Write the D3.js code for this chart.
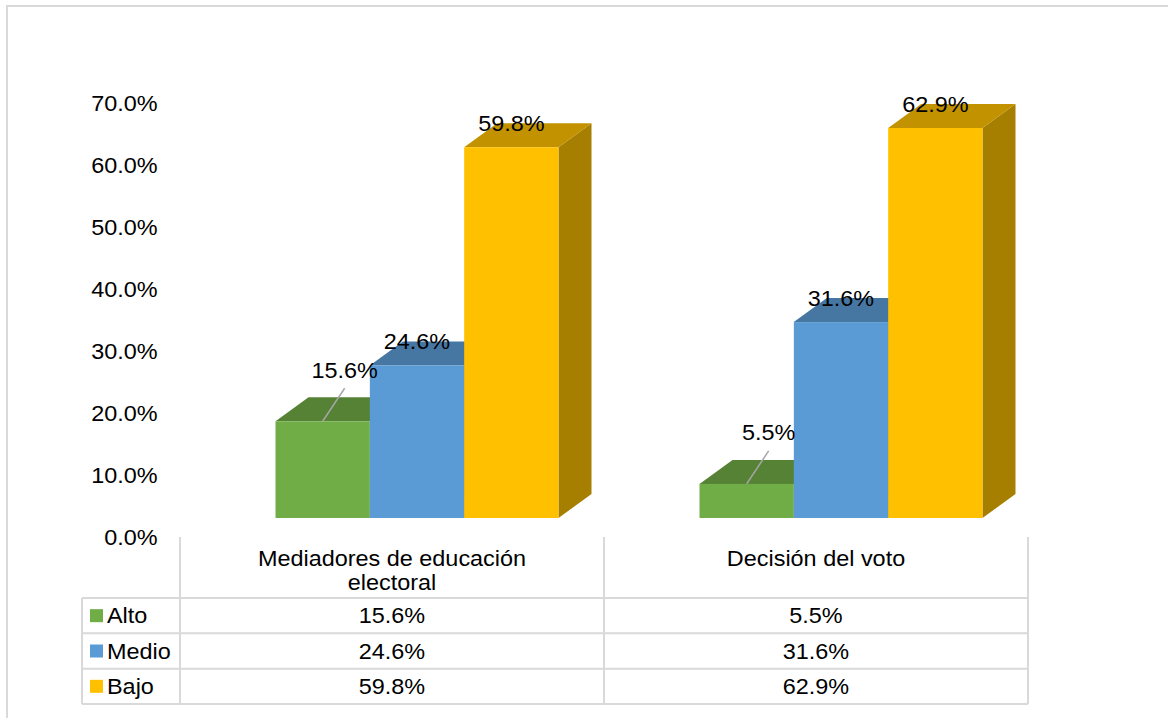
<!DOCTYPE html>
<html>
<head>
<meta charset="utf-8">
<script src="https://cdn.jsdelivr.net/npm/d3@7"></script>
<style>
  body { margin: 0; background: #fff; }
  svg text { font-family: "Liberation Sans", Arial, sans-serif; font-size: 21.5px; fill: #000; }
</style>
</head>
<body>
<script>
// Data
const categories = ["Mediadores de educación electoral", "Decisión del voto"];
const series = ["Alto", "Medio", "Bajo"];
const alto = [15.6, 5.5];
const medio = [24.6, 31.6];
const bajo = [59.8, 62.9];
const yTicks = [0, 10, 20, 30, 40, 50, 60, 70];

const values = { Alto: alto, Medio: medio, Bajo: bajo };

// Colours for front, top and side faces
const frontColor = d3.scaleOrdinal().domain(series).range(["#70AD47", "#5B9BD5", "#FFC000"]);
const topColor = d3.scaleOrdinal().domain(series).range(["#568236", "#4676A2", "#C39200"]);
const sideColor = d3.scaleOrdinal().domain(series).range(["#4E7A31", "#3F6B94", "#A67E00"]);

let width = 1168, height = 718;
const depthX = 33, depthY = -24;   // 3D depth offset
const stretch = 1.09;              // horizontal text stretch of the original

let svg = d3.select('body')
            .append('svg')
            .attr('width', width)
            .attr('height', height);

// Outer frame
svg.append("rect")
   .attr("x", 7).attr("y", 6)
   .attr("width", 1200).attr("height", 800)
   .attr("fill", "none")
   .attr("stroke", "#d9d9d9")
   .attr("stroke-width", 2);

// helper to place stretched text
function addText(g, x, y, txt, anchor) {
    return g.append("text")
            .attr("transform", `translate(${x},${y}) scale(${stretch},1)`)
            .attr("text-anchor", anchor || "middle")
            .attr("dy", "0.35em")
            .text(txt);
}

// Scales
const yScale = d3.scaleLinear().domain([0, 70]).range([518, 84]);

const xCat = d3.scaleBand()
    .domain(categories)
    .range([180, 1028]);

const groupWidth = 283;
const xSeries = d3.scaleBand()
    .domain(series)
    .range([0, groupWidth]);

const groupLeft = c => xCat(c) + xCat.bandwidth() / 2 + 25 - groupWidth / 2;

// Y axis (labels only)
const yAxis = svg.append("g")
   .attr("transform", `translate(162,20)`)
   .call(d3.axisLeft(yScale).tickValues(yTicks).tickSize(0).tickPadding(4)
           .tickFormat(d => d.toFixed(1) + "%"));
yAxis.select(".domain").remove();
yAxis.selectAll("text")
     .attr("font-family", null)
     .attr("font-size", null)
     .attr("transform", `scale(${stretch},1)`);

// 3D bars
const bars = svg.append("g");
categories.forEach((c, ci) => {
    series.forEach(s => {
        const v = values[s][ci];
        const x = groupLeft(c) + xSeries(s);
        const w = xSeries.bandwidth();
        const yTop = yScale(v);
        const yBase = yScale(0);

        // side face
        bars.append("polygon")
            .attr("points", [[x + w, yTop], [x + w + depthX, yTop + depthY],
                             [x + w + depthX, yBase + depthY], [x + w, yBase]].join(" "))
            .attr("fill", sideColor(s));

        // top face
        bars.append("polygon")
            .attr("points", [[x, yTop], [x + depthX, yTop + depthY],
                             [x + w + depthX, yTop + depthY], [x + w, yTop]].join(" "))
            .attr("fill", topColor(s));

        // front face
        bars.append("rect")
            .attr("x", x)
            .attr("y", yTop)
            .attr("width", w)
            .attr("height", yBase - yTop)
            .attr("fill", frontColor(s));
    });
});

// Data labels
const labels = svg.append("g");
categories.forEach((c, ci) => {
    series.forEach(s => {
        const v = values[s][ci];
        const cx = groupLeft(c) + xSeries(s) + xSeries.bandwidth() / 2;
        const yTop = yScale(v);
        const txt = v.toFixed(1) + "%";
        if (s === "Alto") {
            // small bars get a leader line
            const lx = cx + 22, ly = yTop - 51;
            labels.append("line")
                  .attr("x1", cx).attr("y1", yTop)
                  .attr("x2", lx).attr("y2", ly + 18)
                  .attr("stroke", "#a6a6a6")
                  .attr("stroke-width", 1.5);
            addText(labels, lx, ly, txt);
        } else {
            addText(labels, cx, yTop - 24, txt);
        }
    });
});

// Data table
const table = svg.append("g");
const rowY = d3.scaleBand().domain(series).range([598, 704]);
const tableLeft = 82, tableRight = 1028, headerTop = 537;
const gridColor = "#d9d9d9";

// horizontal lines
[598, ...series.map(s => rowY(s) + rowY.bandwidth())].forEach(y => {
    table.append("line")
         .attr("x1", tableLeft).attr("x2", tableRight)
         .attr("y1", y).attr("y2", y)
         .attr("stroke", gridColor).attr("stroke-width", 2);
});

// left border of rows
table.append("line")
     .attr("x1", tableLeft).attr("x2", tableLeft)
     .attr("y1", 598).attr("y2", 704)
     .attr("stroke", gridColor).attr("stroke-width", 2);

// column lines
[...categories.map(c => xCat(c)), tableRight].forEach(x => {
    table.append("line")
         .attr("x1", x).attr("x2", x)
         .attr("y1", headerTop).attr("y2", 704)
         .attr("stroke", gridColor).attr("stroke-width", 2);
});

// header text, wrapped
categories.forEach(c => {
    const cx = xCat(c) + xCat.bandwidth() / 2;
    const words = c.split(" ");
    let lines = [c];
    if (c.length > 24) {
        lines = [words.slice(0, -1).join(" "), words[words.length - 1]];
    }
    lines.forEach((ln, i) => addText(table, cx, 558 + i * 24, ln));
});

// rows
series.forEach(s => {
    const cy = rowY(s) + rowY.bandwidth() / 2;
    table.append("rect")
         .attr("x", 90).attr("y", cy - 6.5)
         .attr("width", 13).attr("height", 13)
         .attr("fill", frontColor(s));
    addText(table, 107, cy, s, "start");
    categories.forEach((c, ci) => {
        addText(table, xCat(c) + xCat.bandwidth() / 2, cy, values[s][ci].toFixed(1) + "%");
    });
});
</script>
</body>
</html>
